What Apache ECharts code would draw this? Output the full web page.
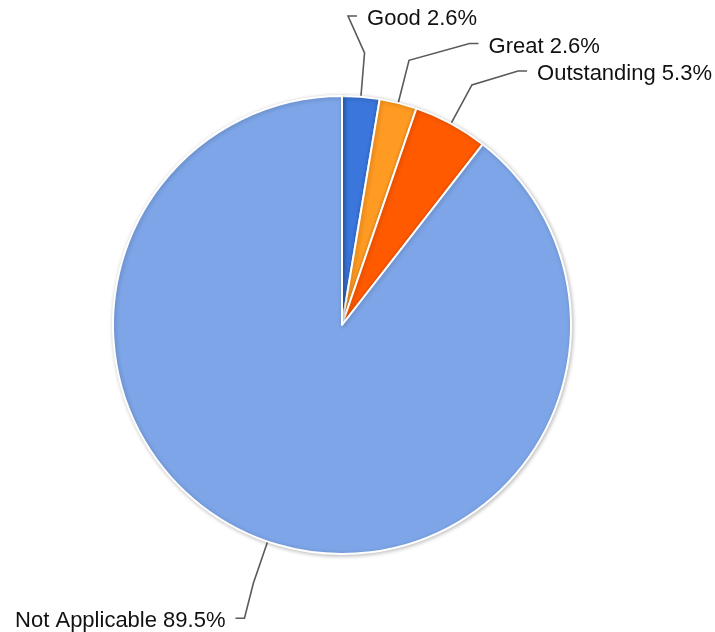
<!DOCTYPE html>
<html><head><meta charset="utf-8">
<script src="https://cdn.jsdelivr.net/npm/echarts@6/dist/echarts.min.js"></script>
<style>html,body{margin:0;padding:0;background:#fff}#c{width:715px;height:632px}</style>
</head><body><div id="c"></div>
<script>
const categories = ["Good", "Great", "Outstanding", "Not Applicable"];
const counts = [1, 1, 2, 34];
const colors = ["#3a76db", "#ff9a22", "#ff5a00", "#7da5e8"];

const total = counts.reduce((a, b) => a + b, 0);
const CX = 342, CY = 325, R = 229;
const RING_Y = 310, RING_X = 309, ELBOW = 44, GAP = 27.5, TAIL = 9, PAD = 19, TEXT_DY = 3;

// Label layout computed from the data angles (Google-chart-like leader lines)
function computeLabelLayout() {
  let acc = 0;
  const items = counts.map((v, i) => {
    const mid = (acc + v / 2) / total * 2 * Math.PI;
    acc += v;
    return {i, mid, right: Math.sin(mid) >= 0, natY: CY - RING_Y * Math.cos(mid)};
  });
  [true, false].forEach(side => {
    const s = items.filter(d => d.right === side).sort((a, b) => a.natY - b.natY);
    let prev = -Infinity;
    s.forEach(d => { d.y = Math.max(d.natY, prev + GAP); prev = d.y; });
  });
  const out = {};
  items.forEach(d => {
    const sgn = d.right ? 1 : -1;
    const dy = d.y - CY;
    const bx = CX + sgn * Math.sqrt(Math.max(0, RING_X * RING_X - dy * dy));
    const edge = [CX + R * Math.sin(d.mid), CY - R * Math.cos(d.mid)];
    const elbow = [CX + (R + ELBOW) * Math.sin(d.mid), CY - (R + ELBOW) * Math.cos(d.mid)];
    out[d.i] = {
      x: bx + sgn * PAD, y: d.y + TEXT_DY,
      align: d.right ? 'left' : 'right', verticalAlign: 'middle',
      labelLinePoints: [edge, elbow, [bx, d.y], [bx + sgn * TAIL, d.y]]
    };
  });
  return out;
}
const labelPos = computeLabelLayout();

const chart = echarts.init(document.getElementById('c'), null, {renderer: 'canvas'});
chart.setOption({
  animation: false,
  series: [{
    type: 'pie',
    center: [CX, CY],
    radius: [0, R],
    startAngle: 90,
    clockwise: true,
    avoidLabelOverlap: false,
    data: categories.map((n, i) => ({name: n, value: counts[i], itemStyle: {color: colors[i]}})),
    itemStyle: {borderColor: '#fff', borderWidth: 2, shadowBlur: 4, shadowColor: 'rgba(0,0,0,0.25)', shadowOffsetX: 1, shadowOffsetY: 1},
    label: {
      show: true,
      fontFamily: 'Liberation Sans, Arial, sans-serif',
      fontSize: 22,
      color: '#111',
      formatter: p => p.name + ' ' + (p.value / total * 100).toFixed(1) + '%'
    },
    labelLine: {show: true, length: 40, length2: 10, lineStyle: {color: '#5a5a5a', width: 1.6}},
    labelLayout: p => labelPos[p.dataIndex],
    emphasis: {disabled: true}
  }]
});
</script></body></html>
